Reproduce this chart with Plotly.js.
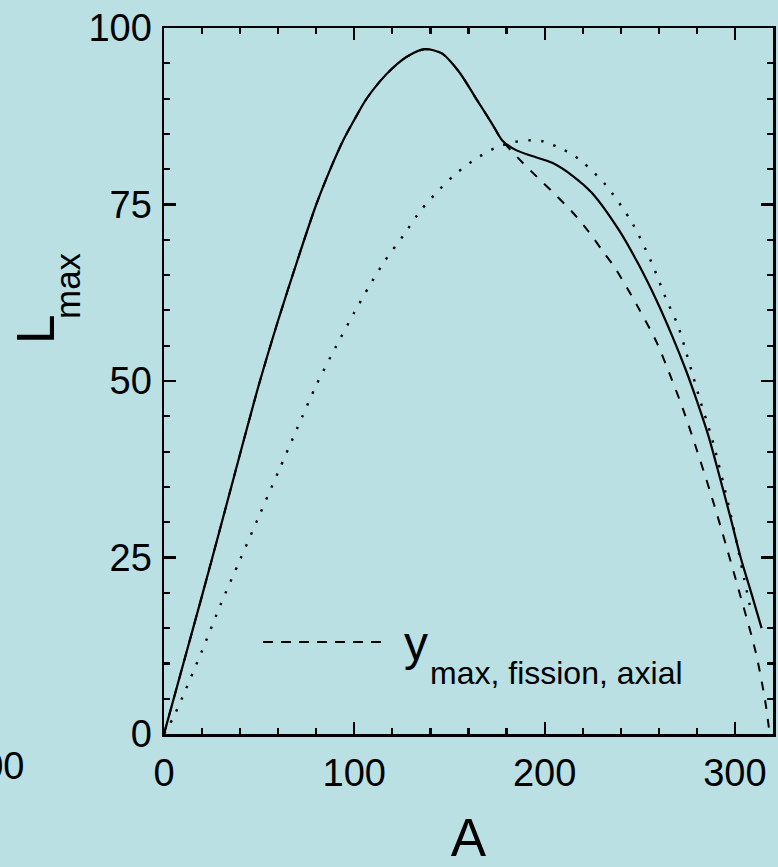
<!DOCTYPE html>
<html>
<head>
<meta charset="utf-8">
<script src="https://cdn.plot.ly/plotly-3.0.1.min.js"></script>
<style>html,body{margin:0;padding:0;background:#bae0e3;}</style>
</head>
<body>
<div id="chart" style="width:778px;height:867px;"></div>
<script>
// Solid curve
var solidA = [0,10,20,30,40,50,60,70,80,88,94,100,106,113,120,128,137,146,155,164,172,178,185,193,204,215,225,239,249,259,267,274,280,286,292,298,303,309,314];
var solidL = [0,9.8,19.6,29.6,39.7,49.6,58.6,67,75,80.4,84,87,89.8,92.3,94.3,96,97,96.4,93.8,90,86.6,84,82.7,81.9,80.9,79,76.6,71.4,66.7,61.3,56.4,51.7,47.2,42.3,36.4,30.3,25,19.6,15];
// Dashed curve (y max, fission, axial)
var dashedA = [0,10,20,30,40,50,60,70,80,88,94,100,106,113,120,128,137,146,155,164,172,178,186,196,206,215,223,230,237,249,259,267,273,280,287,293,302,311,316,318];
var dashedL = [0,9.8,19.6,29.6,39.7,49.6,58.6,67,75,80.4,84,87,89.8,92.3,94.3,96,97,96.4,93.8,90,86.6,84,81.6,78.9,76.3,73.8,71.2,68.6,66,60.5,55.4,50.1,45.8,40.2,34.3,28.9,20.4,11.5,4.5,0.5];
// Dotted curve
var dottedA = [0,5,10,20,30,40,50,60,70,80,90,100,108,116,126,135,145,154,164,174,183,193,200,207,214,220,232,246,256,264,270,274,278,282,288,297,305,308];
var dottedL = [0,2.4,5.4,11.8,18.5,24.7,30.9,37.1,43.3,49.4,54.7,59.7,63.5,67,70.7,74.2,77.2,79.5,81.5,83,83.8,84.1,83.9,83.1,82.2,81,77.8,72.4,66.9,61.5,57.9,54.4,50.7,47,41.8,32,21.8,18];

var xTicks = [0,100,200,300];
var yTicks = [0,25,50,75,100];
var legendMain = 'y';
var legendSub = 'max, fission, axial';
var yTitleMain = 'L';
var yTitleSub = 'max';
var xTitle = 'A';

var bg = '#bae0e3';
var fam = '"Liberation Sans", Arial, sans-serif';

var traces = [
  {x: dottedA, y: dottedL, mode:'lines', line:{color:'#000', width:2.4, dash:'2.4px,10.4px', shape:'spline', smoothing:0.8}, hoverinfo:'skip'},
  {x: dashedA, y: dashedL, mode:'lines', line:{color:'#000', width:2, dash:'9px,10px', shape:'spline', smoothing:0.8}, hoverinfo:'skip'},
  {x: solidA, y: solidL, mode:'lines', line:{color:'#000', width:2.2, shape:'spline', smoothing:0.8}, hoverinfo:'skip'}
];

function axis(range, vals, minorStep) {
  return {
    range: range, tickvals: vals, ticktext: vals.map(String),
    ticks:'inside', ticklen:12, tickwidth:2.2, tickcolor:'#000',
    showline:true, linewidth:2.5, linecolor:'#000', mirror:'ticks',
    showgrid:false, zeroline:false,
    tickfont:{size:38, family:fam, color:'#000'},
    minor:{dtick:minorStep, ticks:'inside', ticklen:6, tickwidth:2.2, tickcolor:'#000', showgrid:false}
  };
}

var xa = axis([0,320], xTicks, 20);
xa.title = {text: xTitle, font:{size:53, family:fam, color:'#000'}, standoff: 32};
xa.ticklabelstandoff = 4;
var ya = axis([0,100], yTicks, 5);
ya.ticklabelstandoff = 2;

var layout = {
  width:778, height:867,
  paper_bgcolor:bg, plot_bgcolor:bg,
  margin:{l:164, r:5, t:28, b:133, pad:0},
  showlegend:false,
  font:{family:fam, color:'#000'},
  xaxis: xa, yaxis: ya,
  shapes:[
    {type:'line', xref:'paper', yref:'paper', x0:0.1626, x1:0.3629, y0:0.1303, y1:0.1303, line:{color:'#000', width:2, dash:'10px,8px'}}
  ],
  annotations:[
    {xref:'paper', yref:'paper', x:0.391, y:0.128, xanchor:'left', yanchor:'middle', text:legendMain, showarrow:false, font:{size:48, family:fam, color:'#000'}},
    {xref:'paper', yref:'paper', x:0.434, y:0.0858, xanchor:'left', yanchor:'middle', text:legendSub, showarrow:false, font:{size:32, family:fam, color:'#000'}},
    {xref:'paper', yref:'paper', x:(35-164)/609, y:(734-330)/706, xanchor:'center', yanchor:'middle', text:yTitleMain, textangle:-90, showarrow:false, font:{size:53, family:fam, color:'#000'}},
    {xref:'paper', yref:'paper', x:(67-164)/609, y:(734-286)/706, xanchor:'center', yanchor:'middle', text:yTitleSub, textangle:-90, showarrow:false, font:{size:35, family:fam, color:'#000'}},
    {xref:'paper', yref:'paper', x:(26-164)/609, y:(734-766)/706, xanchor:'right', yanchor:'middle', text:'300', showarrow:false, font:{size:38, family:fam, color:'#000'}}
  ]
};

Plotly.newPlot('chart', traces, layout, {staticPlot:true, displayModeBar:false});
</script>
</body>
</html>
